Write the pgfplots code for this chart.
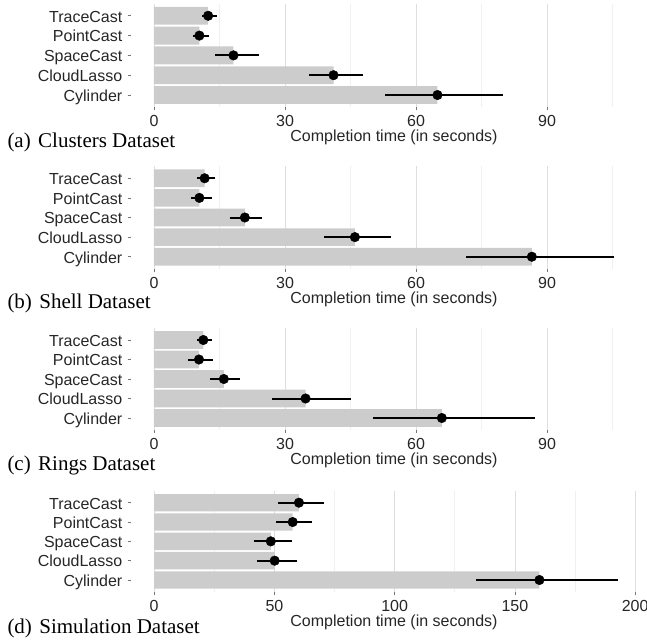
\documentclass[border=0pt]{standalone}
\usepackage{fontspec}
\setmainfont{Liberation Sans}
\newfontfamily\capfont{Liberation Serif}
\usepackage{pgfplots}
\pgfplotsset{compat=1.18}
\definecolor{barcol}{HTML}{CCCCCC}
\definecolor{gridmaj}{HTML}{DEDEDE}
\definecolor{gridmin}{HTML}{F0F0F0}
\definecolor{tickcol}{HTML}{777777}
\pgfplotsset{
 panel/.style={
  scale only axis,
  anchor=south west,
  axis line style={draw=none},
  ymin=0.4, ymax=5.6, y dir=reverse,
  ytick={1,2,3,4,5},
  yticklabels={TraceCast,PointCast,SpaceCast,CloudLasso,Cylinder},
  ytick pos=left, xtick pos=bottom,
  tick align=outside,
  major tick length=3.5pt,
  minor tick length=0pt,
  tick style={tickcol, line width=0.6pt},
  xmajorgrids, xminorgrids,
  major grid style={gridmaj, line width=0.7pt},
  minor grid style={gridmin, line width=0.7pt},
  tick label style={font=\fontsize{16}{19}\selectfont, text=black!85},
  /pgf/number format/assume math mode=true,
  yticklabel style={anchor=base east, inner sep=0pt, xshift=-5pt, yshift=-6.3pt},
  xticklabel style={anchor=base, inner sep=0pt, yshift=-16.2pt},
  xlabel={Completion time (in seconds)},
  xlabel style={font=\fontsize{16}{19}\selectfont, text=black!85, at={(axis description cs:0.5,0)}, anchor=base, inner sep=0pt, yshift=-34.7pt},
  clip=false,
 },
 bars/.style={xbar, bar width=0.9, fill=barcol, draw=none},
 errs/.style={black, only marks, mark=*, mark size=4.8pt,
   error bars/.cd, x dir=both, x explicit, error mark=none,
   error bar style={line width=2pt, black}},
}
\begin{document}
\begin{tikzpicture}
\path[use as bounding box] (0,0) rectangle (647pt,643pt);
% (a)
\begin{axis}[panel, at={(131pt,536.1pt)}, width=505.5pt, height=103pt,
  xmin=-5.26, xmax=110.46, xtick={0,30,60,90}, minor xtick={15,45,75,105},
  xlabel style={xshift=10.25pt}]
\addplot[bars] coordinates {(12.4,1) (10.4,2) (18.2,3) (41.1,4) (64.9,5)};
\addplot[errs] coordinates {
 (12.4,1) -= (1.5,0) += (2.1,0)
 (10.4,2) -= (1.5,0) += (2.3,0)
 (18.2,3) -= (4.2,0) += (5.8,0)
 (41.1,4) -= (5.5,0) += (6.7,0)
 (64.9,5) -= (12.0,0) += (14.9,0)};
\end{axis}
% (b)
\begin{axis}[panel, at={(131pt,374.5pt)}, width=505.5pt, height=102pt,
  xmin=-5.26, xmax=110.46, xtick={0,30,60,90}, minor xtick={15,45,75,105},
  xlabel style={xshift=10.25pt}]
\addplot[bars] coordinates {(11.6,1) (10.4,2) (20.8,3) (46.0,4) (86.5,5)};
\addplot[errs] coordinates {
 (11.6,1) -= (1.8,0) += (2.4,0)
 (10.4,2) -= (2.0,0) += (2.8,0)
 (20.8,3) -= (3.4,0) += (4.0,0)
 (46.0,4) -= (7.0,0) += (8.2,0)
 (86.5,5) -= (15.1,0) += (18.7,0)};
\end{axis}
% (c)
\begin{axis}[panel, at={(131pt,213.3pt)}, width=505.5pt, height=101.4pt,
  xmin=-5.26, xmax=110.46, xtick={0,30,60,90}, minor xtick={15,45,75,105},
  xlabel style={xshift=10.25pt}]
\addplot[bars] coordinates {(11.3,1) (10.3,2) (16.0,3) (34.7,4) (65.9,5)};
\addplot[errs] coordinates {
 (11.3,1) -= (1.5,0) += (1.9,0)
 (10.3,2) -= (2.4,0) += (3.1,0)
 (16.0,3) -= (3.2,0) += (3.7,0)
 (34.7,4) -= (7.7,0) += (10.3,0)
 (65.9,5) -= (15.8,0) += (21.3,0)};
\end{axis}
% (d)
\begin{axis}[panel, at={(131pt,51.4pt)}, width=510pt, height=100.5pt,
  xmin=-9.64, xmax=202.44, xtick={0,50,100,150,200}, minor xtick={25,75,125,175},
  xlabel style={xshift=8pt}]
\addplot[bars] coordinates {(60.2,1) (57.6,2) (48.5,3) (50.1,4) (160.2,5)};
\addplot[errs] coordinates {
 (60.2,1) -= (8.8,0) += (10.5,0)
 (57.6,2) -= (6.9,0) += (8.2,0)
 (48.5,3) -= (7.2,0) += (9.0,0)
 (50.1,4) -= (7.4,0) += (9.2,0)
 (160.2,5) -= (26.3,0) += (32.6,0)};
\end{axis}
\begin{scope}[every node/.style={anchor=base west, inner sep=0pt, font=\capfont\fontsize{21}{25}\selectfont}]
\node at (7.3pt,495pt) {(a)\hspace{0.35em}Clusters Dataset};
\node at (7.3pt,334pt) {(b)\hspace{0.35em}Shell Dataset};
\node at (7.3pt,173pt) {(c)\hspace{0.35em}Rings Dataset};
\node at (7.3pt,10pt) {(d)\hspace{0.35em}Simulation Dataset};
\end{scope}
\end{tikzpicture}
\end{document}
